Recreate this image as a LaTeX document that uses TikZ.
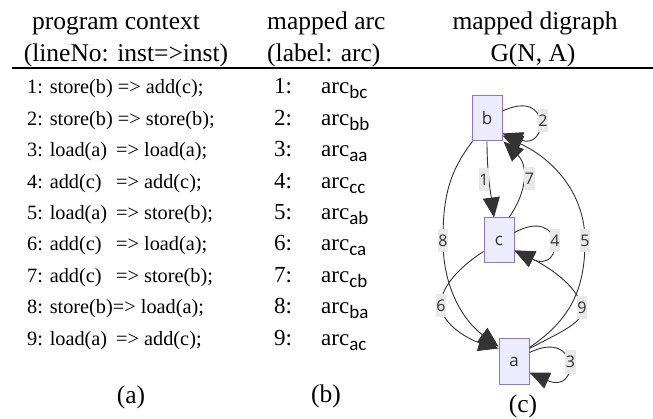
\documentclass[tikz,border=0pt]{standalone}
\usepackage{fontspec}
\setmainfont{Liberation Serif}
\newfontfamily\mmdfont{Open Sans}
\newfontfamily\subfont{Carlito}
\usetikzlibrary{arrows.meta}
\definecolor{nodefill}{HTML}{ECECFF}
\definecolor{nodeline}{HTML}{9370DB}
\definecolor{edgecol}{HTML}{333333}
\definecolor{lblbg}{HTML}{E8E8E8}
\newcommand{\arcsub}[1]{arc{\subfont\fontsize{19}{19}\selectfont\raisebox{-5pt}{#1}}}
\begin{document}
\begin{tikzpicture}[x=1pt,y=-1pt,
  hdr/.style={font=\fontsize{25.5}{28}\selectfont, inner sep=0pt, anchor=base},
  rowtxt/.style={font=\fontsize{20.3}{24}\selectfont, inner sep=0pt, anchor=base west},
  arcnum/.style={font=\fontsize{23}{24}\selectfont, inner sep=0pt, anchor=base west},
  gnode/.style={draw=nodeline, fill=nodefill, line width=1pt, minimum width=30pt, minimum height=45pt, inner sep=0pt, font=\mmdfont\fontsize{17}{17}\selectfont, text=edgecol},
  elbl/.style={fill=lblbg, inner xsep=0.6pt, inner ysep=0pt, minimum height=23pt, font=\mmdfont\fontsize{16}{16}\selectfont, text=edgecol},
  conn/.style={draw=edgecol, line width=0.9pt, -{Triangle[length=20pt,width=17pt]}},
  sublabel/.style={font=\fontsize{25.5}{28}\selectfont, inner sep=0pt, anchor=base}
]
\useasboundingbox (0,0) rectangle (653,419);

% headers
\node[hdr] (h1a) at (116,30) {program context};
\node[hdr] (h1b) at (126,62) {(lineNo: inst=>inst)};
\node[hdr,anchor=base west] (h2a) at (267,30) {mapped arc};
\node[hdr,anchor=base west] (h2b) at (267,62) {(label: arc)};
\node[hdr] (h3a) at (535,30) {mapped digraph};
\node[hdr] (h3b) at (533,62) {G(N, A)};
\coordinate (rulel) at (12,68);
\coordinate (ruler) at (653,68);
\draw[line width=2.5pt] (rulel) -- (ruler);

% column (a)
\node[rowtxt] (r1) at (27,94.0) {1: store(b) => add(c);};
\node[rowtxt] (r2) at (27,125.4) {2: store(b) => store(b);};
\node[rowtxt] (r3) at (27,156.8) {\makebox[89pt][l]{3: load(a)}=> load(a);};
\node[rowtxt] (r4) at (27,188.2) {\makebox[89pt][l]{4: add(c)}=> add(c);};
\node[rowtxt] (r5) at (27,219.6) {\makebox[89pt][l]{5: load(a)}=> store(b);};
\node[rowtxt] (r6) at (27,251.0) {\makebox[89pt][l]{6: add(c)}=> load(a);};
\node[rowtxt] (r7) at (27,282.4) {\makebox[89pt][l]{7: add(c)}=> store(b);};
\node[rowtxt] (r8) at (27,313.8) {8: store(b)=> load(a);};
\node[rowtxt] (r9) at (27,345.2) {\makebox[89pt][l]{9: load(a)}=> add(c);};

% column (b)
\foreach \i/\s in {1/bc,2/bb,3/aa,4/cc,5/ab,6/ca,7/cb,8/ba,9/ac}{
  \node[arcnum] (n\i) at (274,{94+31.4*(\i-1)}) {\i:};
  \node[arcnum] (m\i) at (321,{94+31.4*(\i-1)}) {\arcsub{\s}};
}

% captions
\node[sublabel] (capa) at (131,403) {(a)};
\node[sublabel] (capb) at (326,402) {(b)};
\node[sublabel] (capc) at (523,412) {(c)};

% graph nodes
\node[gnode] (b) at (487,118.5) {b};
\node[gnode] (c) at (499,240.5) {c};
\node[gnode] (a) at (514,361.5) {a};

% edges
\draw[conn] (b.south) .. controls (487,175) and (491,195) .. ([xshift=-5pt]c.north); % 1
\draw[conn] ([yshift=7.5pt]b.east) .. controls (552,88) and (548,150) .. ([yshift=-15pt]b.east); % 2
\draw[conn] ([yshift=9pt]a.east) .. controls (580,328) and (580,395) .. ([yshift=-11pt]a.east); % 3
\draw[conn] ([yshift=8pt]c.east) .. controls (565,205) and (565,275) .. ([yshift=-10pt]c.east); % 4
\draw[conn] ([yshift=-9pt]a.north east) .. controls (570,320) and (585,290) .. (585,241) .. controls (585,195) and (555,160) .. ([yshift=-17pt]b.east); % 5
\draw[conn] ([yshift=-11pt]c.west) .. controls (455,270) and (440,290) .. (441,306) .. controls (442,325) and (470,340) .. ([yshift=-10pt]a.north west); % 6
\draw[conn] ([xshift=10pt]c.north) .. controls (528,190) and (528,165) .. ([xshift=1pt]b.south east); % 7
\draw[conn] ([xshift=1pt]b.south west) .. controls (446,175) and (443,205) .. (443,241) .. controls (443,290) and (465,322) .. ([yshift=-8pt]a.north west); % 8
\draw[conn] ([yshift=-10pt]a.north east) .. controls (565,330) and (584,322) .. (582,308) .. controls (578,285) and (545,265) .. ([yshift=-10pt]c.east); % 9

% edge labels
\node[elbl] (l1) at (484,180) {1};
\node[elbl] (l2) at (543,121) {2};
\node[elbl] (l3) at (570.5,362) {3};
\node[elbl] (l4) at (555,241) {4};
\node[elbl] (l5) at (585,241) {5};
\node[elbl] (l6) at (441,306) {6};
\node[elbl] (l7) at (529.5,179) {7};
\node[elbl] (l8) at (443,241) {8};
\node[elbl] (l9) at (582,308) {9};
\end{tikzpicture}
\end{document}
